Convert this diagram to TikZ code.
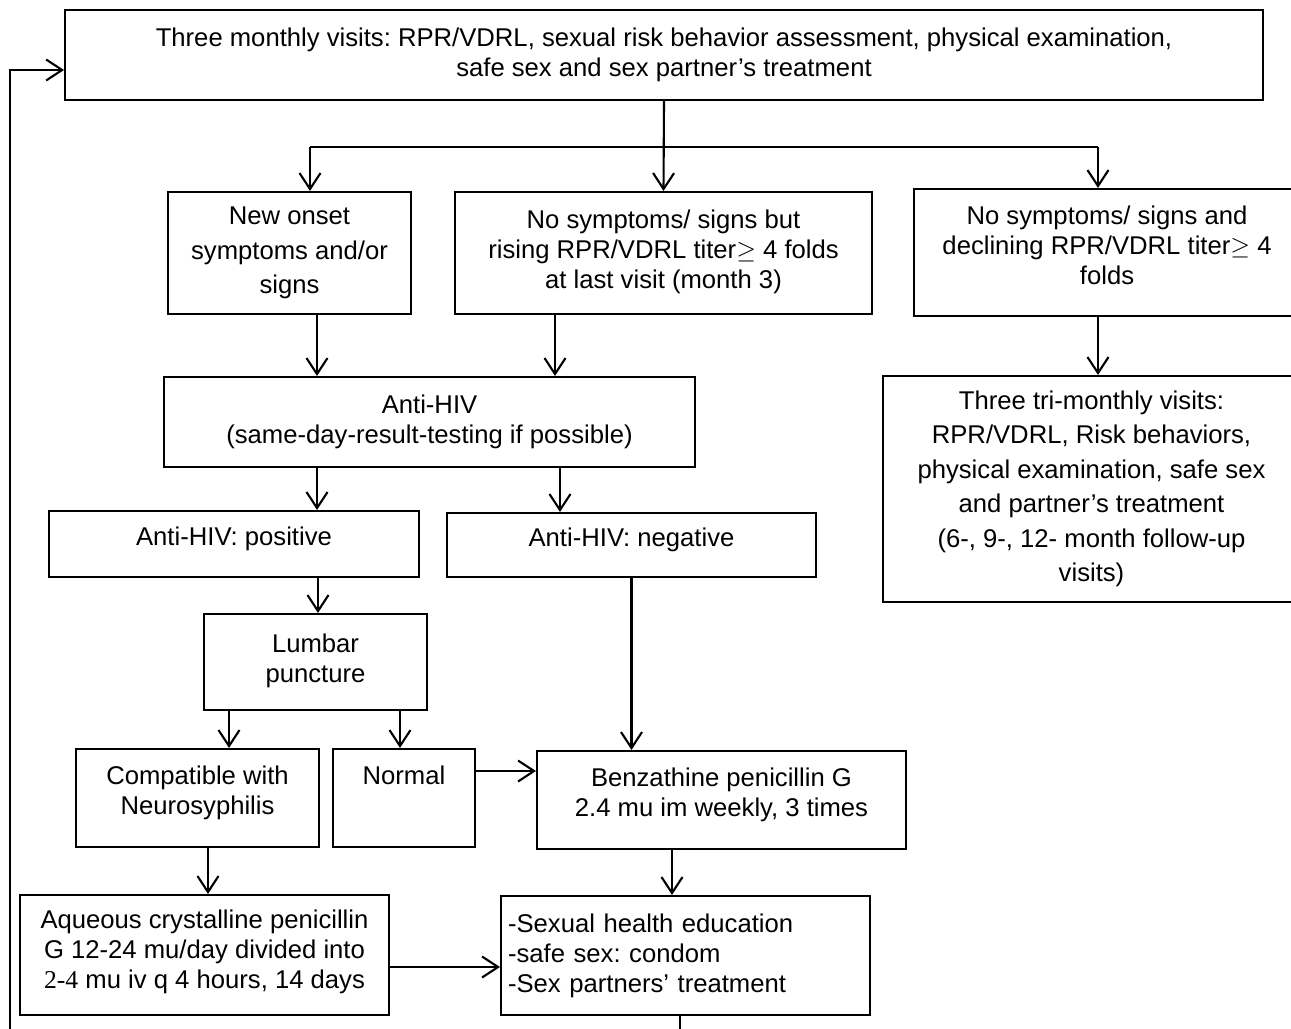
\documentclass[tikz,border=0pt]{standalone}
\usepackage{fontspec}
\setmainfont{Liberation Sans}
\newfontfamily\serifnum{Liberation Serif}
\usetikzlibrary{positioning,arrows.meta}

\begin{document}
\frenchspacing
\begin{tikzpicture}[
    x=0.02cm, y=-0.02cm,
    every node/.style={font=\fontsize{14.6pt}{17pt}\selectfont},
    box/.style ={draw, line width=1.2pt, align=center, inner sep=0pt},
    loose/.style={font=\fontsize{14.6pt}{19.6pt}\selectfont},
    arr/.style ={-{Straight Barb[length=3.2mm, width=4.2mm]}, line width=1.2pt}
  ]
  \useasboundingbox (0,0) rectangle (1291,1028);
  \node[box, minimum width=23.96cm, minimum height=1.8cm] (top) at (664,55)
    {Three monthly visits: RPR/VDRL, sexual risk behavior assessment, physical examination,\\
     safe sex and sex partner’s treatment};
  \node[box, loose, minimum width=4.86cm, minimum height=2.44cm] (onset) at (289.5,253)
    {New onset\\symptoms and/or\\signs};
  \node[box, minimum width=8.34cm, minimum height=2.44cm] (rising) at (663.5,253)
    {No symptoms/ signs but\\rising RPR/VDRL titer$\geq$ 4 folds\\at last visit (month 3)\\[-12.5pt]};
  \node[box, minimum width=7.72cm, minimum height=2.54cm] (decl) at (1107,252.5)
    {No symptoms/ signs and\\declining RPR/VDRL titer$\geq$ 4\\folds\\[-9pt]};
  \node[box, loose, minimum width=8.34cm, minimum height=4.52cm] (tri) at (1091.5,489)
    {Three tri-monthly visits:\\RPR/VDRL, Risk behaviors,\\physical examination, safe sex\\
     and partner’s treatment\\(6-, 9-, 12- month follow-up\\visits)};
  \node[box, minimum width=10.62cm, minimum height=1.8cm] (hiv) at (429.5,422)
    {Anti-HIV\\(same-day-result-testing if possible)};
  \node[box, minimum width=7.4cm, minimum height=1.32cm] (pos) at (234,544)
    {Anti-HIV: positive\\[-8pt]};
  \node[box, minimum width=7.38cm, minimum height=1.28cm] (neg) at (631.5,545)
    {Anti-HIV: negative\\[-8pt]};
  \node[box, minimum width=4.46cm, minimum height=1.92cm] (lumbar) at (315.5,662)
    {Lumbar\\puncture\\[-12.5pt]};
  \node[box, minimum width=4.86cm, minimum height=1.96cm] (neuro) at (197.5,798)
    {Compatible with\\Neurosyphilis\\[-8pt]};
  \node[box, minimum width=2.84cm, minimum height=1.96cm] (normal) at (404,798)
    {Normal\\[9pt]};
  \node[box, minimum width=7.38cm, minimum height=1.96cm] (benz) at (721.5,800)
    {Benzathine penicillin G\\2.4 mu im weekly, 3 times\\[-8pt]};
  \node[box, minimum width=7.38cm, minimum height=2.4cm] (aqueous) at (204.5,955)
    {Aqueous crystalline penicillin\\G 12-24 mu/day divided into\\
     {\serifnum 2-4} mu iv q 4 hours, 14 days\\[-10pt]};
  \node[box, align=left, text width=7.1cm, inner xsep=0.14cm,
        minimum height=2.38cm] (sexed) at (685.5,955.5)
    {-Sexual health education\\-safe sex: condom\\-Sex partners’ treatment\\[-10.8pt]};

  \coordinate (brl) at (310,147);
  \coordinate (brr) at (1098,147);
  \coordinate (loopcorner) at (10,1060);
  \draw[line width=1.2pt] (brl) -- (brr);
  \draw[arr] (top.south) -- (rising.north);
  \draw[arr] (brl) -- (brl |- onset.north);
  \draw[arr] (brr) -- (brr |- decl.north);
  \draw[arr] ([xshift=0.55cm]onset.south) -- ([xshift=0.55cm]onset.south |- hiv.north);
  \draw[arr] ([xshift=-2.17cm]rising.south) -- ([xshift=-2.17cm]rising.south |- hiv.north);
  \draw[arr] ([xshift=-0.18cm]decl.south) -- ([xshift=-0.18cm]decl.south |- tri.north);
  \draw[arr] ([xshift=-2.25cm]hiv.south) -- ([xshift=-2.25cm]hiv.south |- pos.north);
  \draw[arr] ([xshift=2.61cm]hiv.south) -- ([xshift=2.61cm]hiv.south |- neg.north);
  \draw[arr] ([xshift=0.05cm]pos.south -| lumbar.north) -- ([xshift=0.05cm]lumbar.north);
  \draw[arr] ([xshift=-1.73cm]lumbar.south) -- ([xshift=-1.73cm]lumbar.south |- neuro.north);
  \draw[arr] ([xshift=-0.08cm]lumbar.south -| normal.north) -- ([xshift=-0.08cm]normal.north);
  \draw[arr] (neg.south) -- (neg.south |- benz.north);
  \draw[arr] ([yshift=0.54cm]normal.east) -- ([yshift=0.54cm]normal.east -| benz.west);
  \draw[arr] ([xshift=0.21cm]neuro.south) -- ([xshift=0.21cm]neuro.south |- aqueous.north);
  \draw[arr] ([xshift=-0.99cm]benz.south) -- ([xshift=-0.99cm]benz.south |- sexed.north);
  \draw[arr] ([yshift=-0.24cm]aqueous.east) -- ([yshift=-0.24cm]aqueous.east -| sexed.west);
  \draw[arr] ([xshift=-0.11cm]sexed.south) |- (loopcorner) |- ([yshift=-0.3cm]top.west);
\end{tikzpicture}
\end{document}
